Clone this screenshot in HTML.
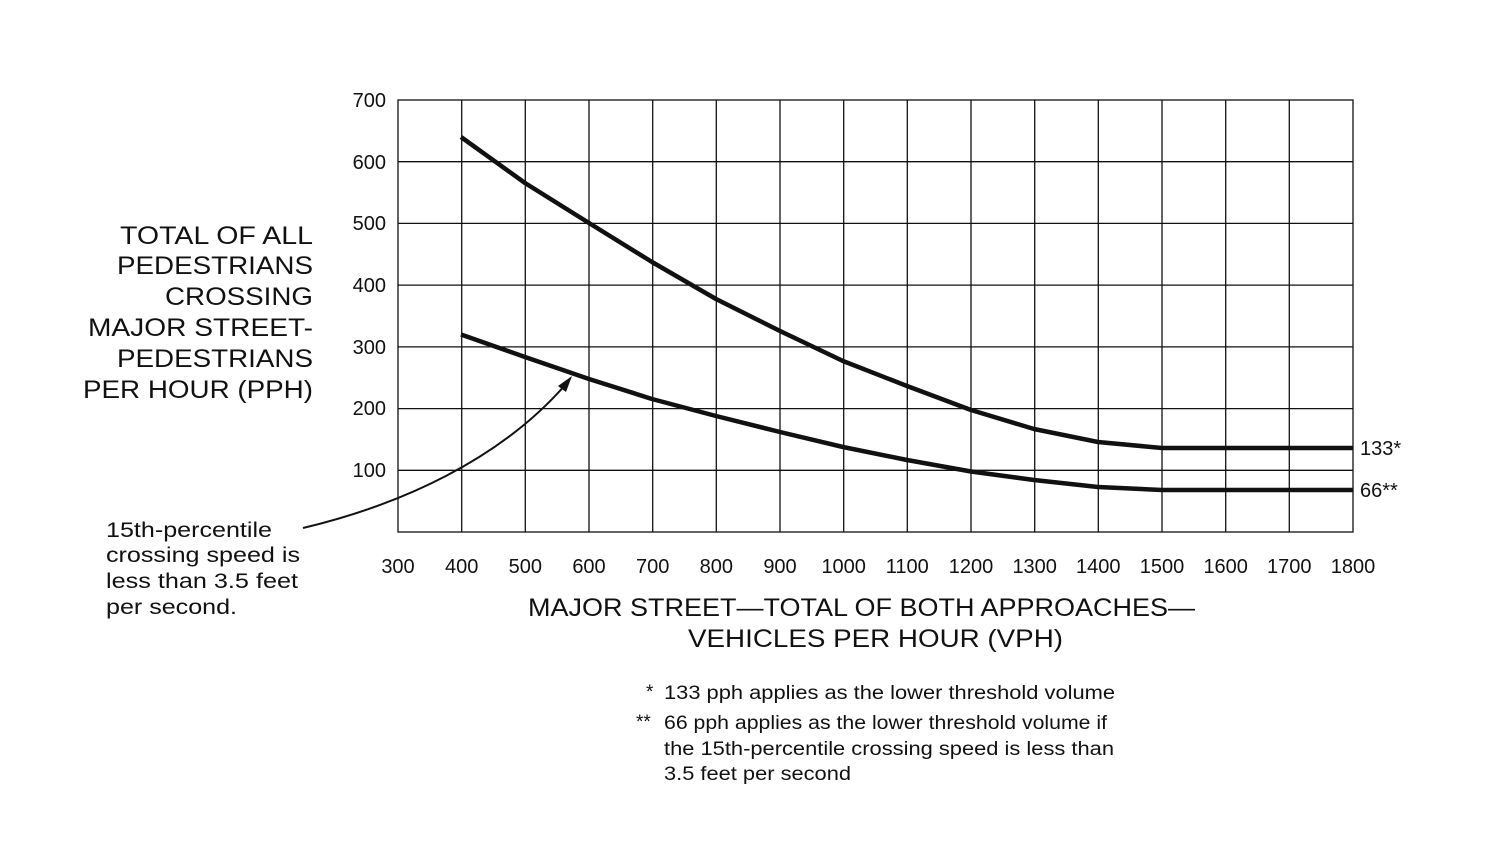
<!DOCTYPE html>
<html><head><style>
body{margin:0;background:#fff;}
svg text{font-family:"Liberation Sans",Arial,sans-serif;fill:#111;}
</style></head><body>
<svg width="1500" height="854" viewBox="0 0 1500 854" xmlns="http://www.w3.org/2000/svg">
<g stroke="#111" stroke-width="1.3" fill="none">
<rect x="398" y="100" width="955" height="432"/>
<line x1="461.7" y1="100" x2="461.7" y2="532"/>
<line x1="525.3" y1="100" x2="525.3" y2="532"/>
<line x1="589" y1="100" x2="589" y2="532"/>
<line x1="652.7" y1="100" x2="652.7" y2="532"/>
<line x1="716.3" y1="100" x2="716.3" y2="532"/>
<line x1="780" y1="100" x2="780" y2="532"/>
<line x1="843.7" y1="100" x2="843.7" y2="532"/>
<line x1="907.3" y1="100" x2="907.3" y2="532"/>
<line x1="971" y1="100" x2="971" y2="532"/>
<line x1="1034.7" y1="100" x2="1034.7" y2="532"/>
<line x1="1098.3" y1="100" x2="1098.3" y2="532"/>
<line x1="1162" y1="100" x2="1162" y2="532"/>
<line x1="1225.7" y1="100" x2="1225.7" y2="532"/>
<line x1="1289.3" y1="100" x2="1289.3" y2="532"/>
<line x1="398" y1="161.7" x2="1353" y2="161.7"/>
<line x1="398" y1="223.4" x2="1353" y2="223.4"/>
<line x1="398" y1="285.1" x2="1353" y2="285.1"/>
<line x1="398" y1="346.9" x2="1353" y2="346.9"/>
<line x1="398" y1="408.6" x2="1353" y2="408.6"/>
<line x1="398" y1="470.3" x2="1353" y2="470.3"/>
</g>
<g stroke="#111" stroke-width="4.5" fill="none" stroke-linejoin="round">
<polyline points="461,137 525,183 589,223 652,262 716,299 780,331 843,361 907,386 971,410 1034,429 1098,442 1162,448 1353,448"/>
<polyline points="461,334.5 525,357 589,379 652,399 716,416 780,432 843,447 907,460 971,471.5 1034,480 1098,487 1162,490 1353,490"/>
</g>
<path d="M303,528 C400,505 500,460 566,384" stroke="#111" stroke-width="2" fill="none"/>
<polygon points="572,376 558,386 566,392" fill="#111"/>
<g font-size="20" text-anchor="end">
<text x="386" y="107">700</text><text x="386" y="169">600</text><text x="386" y="230">500</text>
<text x="386" y="292">400</text><text x="386" y="354">300</text><text x="386" y="415">200</text><text x="386" y="477">100</text>
</g>
<g font-size="20" text-anchor="middle">
<text x="398" y="573">300</text><text x="461.7" y="573">400</text><text x="525.3" y="573">500</text><text x="589" y="573">600</text>
<text x="652.7" y="573">700</text><text x="716.3" y="573">800</text><text x="780" y="573">900</text><text x="843.7" y="573">1000</text>
<text x="907.3" y="573">1100</text><text x="971" y="573">1200</text><text x="1034.7" y="573">1300</text><text x="1098.3" y="573">1400</text>
<text x="1162" y="573">1500</text><text x="1225.7" y="573">1600</text><text x="1289.3" y="573">1700</text><text x="1353" y="573">1800</text>
</g>
<text x="1360" y="455" font-size="20">133*</text>
<text x="1360" y="497" font-size="20">66**</text>
<g font-size="25" lengthAdjust="spacingAndGlyphs">
<text x="120" y="244" textLength="193" lengthAdjust="spacingAndGlyphs">TOTAL OF ALL</text>
<text x="117" y="274" textLength="196" lengthAdjust="spacingAndGlyphs">PEDESTRIANS</text>
<text x="165" y="305" textLength="148" lengthAdjust="spacingAndGlyphs">CROSSING</text>
<text x="88" y="336" textLength="225" lengthAdjust="spacingAndGlyphs">MAJOR STREET-</text>
<text x="117" y="367" textLength="196" lengthAdjust="spacingAndGlyphs">PEDESTRIANS</text>
<text x="83" y="398" textLength="230" lengthAdjust="spacingAndGlyphs">PER HOUR (PPH)</text>
</g>
<text x="528" y="616" font-size="25" textLength="667" lengthAdjust="spacingAndGlyphs">MAJOR STREET—TOTAL OF BOTH APPROACHES—</text>
<text x="688" y="647" font-size="25" textLength="375" lengthAdjust="spacingAndGlyphs">VEHICLES PER HOUR (VPH)</text>
<g font-size="21">
<text x="106" y="537" textLength="166" lengthAdjust="spacingAndGlyphs">15th-percentile</text>
<text x="106" y="562" textLength="194" lengthAdjust="spacingAndGlyphs">crossing speed is</text>
<text x="106" y="588" textLength="192" lengthAdjust="spacingAndGlyphs">less than 3.5 feet</text>
<text x="106" y="614" textLength="131" lengthAdjust="spacingAndGlyphs">per second.</text>
</g>
<g font-size="19">
<text x="646" y="698">*</text><text x="664" y="699" textLength="451" lengthAdjust="spacingAndGlyphs">133 pph applies as the lower threshold volume</text>
<text x="636" y="728">**</text><text x="664" y="729" textLength="443" lengthAdjust="spacingAndGlyphs">66 pph applies as the lower threshold volume if</text>
<text x="664" y="755" textLength="450" lengthAdjust="spacingAndGlyphs">the 15th-percentile crossing speed is less than</text>
<text x="664" y="780" textLength="187" lengthAdjust="spacingAndGlyphs">3.5 feet per second</text>
</g>
</svg>
</body></html>
